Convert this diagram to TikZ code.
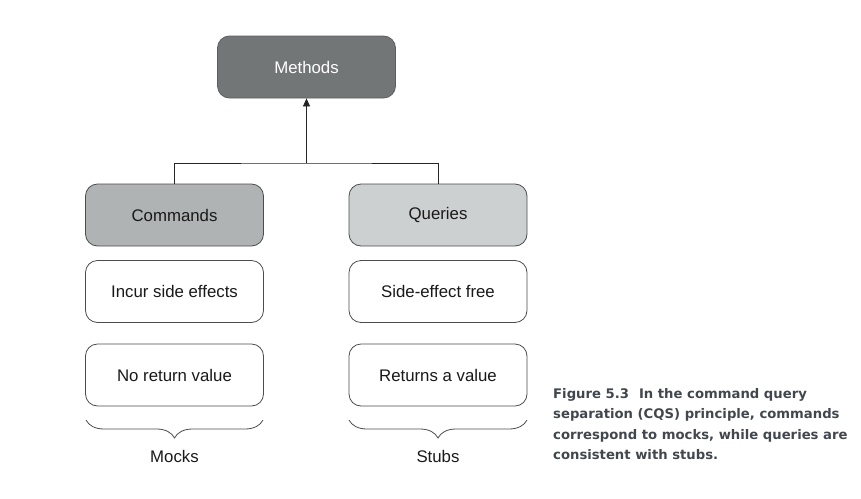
\documentclass[tikz,border=0pt]{standalone}
\usepackage{fontspec}
\setmainfont{Liberation Sans}
\newfontfamily\capfont{DejaVu Sans}
\usetikzlibrary{arrows.meta,decorations.pathreplacing}
\definecolor{methfill}{HTML}{737677}
\definecolor{cmdfill}{HTML}{B0B3B3}
\definecolor{qfill}{HTML}{CDD0D0}
\definecolor{edge}{HTML}{4A4C4E}
\definecolor{captc}{HTML}{42474E}
\begin{document}
\begin{tikzpicture}[x=1pt,y=-1pt,
  box/.style={draw=edge, line width=0.8pt, rounded corners=12pt, minimum width=178pt, minimum height=62pt, inner sep=0pt, font=\fontsize{16.8}{19}\selectfont, text=black!90},
  brc/.style={decorate, decoration={brace, mirror, amplitude=18pt, aspect=0.5}, draw=edge, line width=0.8pt},
  conn/.style={draw=black!85, line width=0.8pt}]
\useasboundingbox (0,0) rectangle (861,498);
\node[box, fill=methfill, draw=methfill!80!black, text=white] (meth) at (306.5,67) {Methods};
\node[box, fill=cmdfill] (cmd) at (174.5,215) {Commands};
\node[box, fill=qfill] (qry) at (438,215) {Queries};
\node[box, fill=white] (inc) at (174.5,291.5) {Incur side effects};
\node[box, fill=white] (nrv) at (174.5,375) {No return value};
\node[box, fill=white] (sef) at (438,291.5) {Side-effect free};
\node[box, fill=white] (rav) at (438,375) {Returns a value};
\coordinate (j) at (306.5,163);
\draw[conn] (cmd.north) |- (j) -| (qry.north);
\draw[conn, -{Triangle[length=8pt,width=7pt]}] (j) -- (meth.south);
\draw[brc] (86,420) -- (263,420);
\draw[brc] (349,420) -- (527,420);
\node[font=\fontsize{16.8}{19}\selectfont, text=black!90] (mocks) at (174.5,456) {Mocks};
\node[font=\fontsize{16.8}{19}\selectfont, text=black!90] (stubs) at (438,456) {Stubs};
\node[anchor=north west, align=left, inner sep=0pt, text=captc, font=\capfont\bfseries\fontsize{13.2}{20.5}\selectfont] (cap) at (553,388)
 {Figure 5.3\hspace{10pt}In the command query\\separation (CQS) principle, commands\\correspond to mocks, while queries are\\consistent with stubs.};
\end{tikzpicture}
\end{document}
